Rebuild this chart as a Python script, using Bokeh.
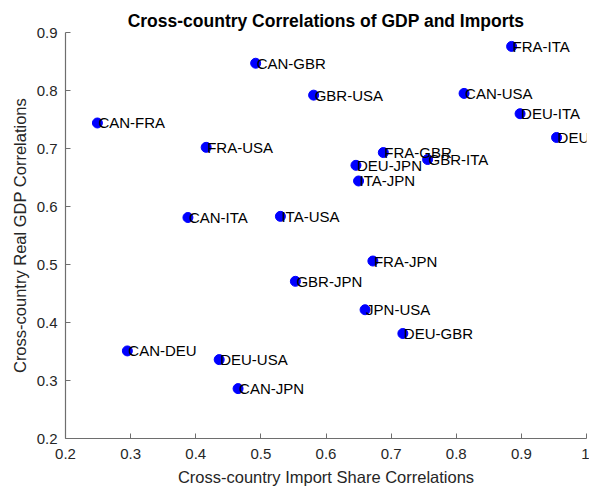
from bokeh.plotting import figure
from bokeh.models import ColumnDataSource, FixedTicker
from bokeh.core.properties import value
from bokeh.embed import file_html
from bokeh.resources import INLINE

pairs = ["CAN-GBR", "CAN-FRA", "FRA-USA", "CAN-ITA", "ITA-USA", "FRA-ITA",
         "GBR-USA", "CAN-USA", "DEU-ITA", "DEU-FRA", "FRA-GBR", "DEU-JPN",
         "GBR-ITA", "ITA-JPN", "CAN-DEU", "DEU-USA", "CAN-JPN", "GBR-JPN",
         "FRA-JPN", "JPN-USA", "DEU-GBR"]
import_corr = [0.492, 0.249, 0.416, 0.388, 0.530, 0.885,
               0.581, 0.812, 0.898, 0.954, 0.688, 0.646,
               0.756, 0.650, 0.295, 0.436, 0.465, 0.553,
               0.672, 0.660, 0.718]
gdp_corr = [0.847, 0.744, 0.702, 0.581, 0.583, 0.876,
            0.792, 0.795, 0.760, 0.719, 0.693, 0.671,
            0.681, 0.644, 0.351, 0.336, 0.286, 0.471,
            0.506, 0.422, 0.381]
x_ticks = [0.2, 0.3, 0.4, 0.5, 0.6, 0.7, 0.8, 0.9, 1.0]
y_ticks = [0.2, 0.3, 0.4, 0.5, 0.6, 0.7, 0.8, 0.9]
title_text = "Cross-country Correlations of GDP and Imports"
x_label = "Cross-country Import Share Correlations"
y_label = "Cross-country Real GDP Correlations"

FONT = "Liberation Sans"
AX = "#6e6e6e"
TXT = "#262626"

src = ColumnDataSource(dict(x=import_corr, y=gdp_corr, name=pairs))

p = figure(width=589, height=492, output_backend="svg", toolbar_location=None,
           x_range=(0.2, 1.0), y_range=(0.2, 0.9),
           min_border_left=65, min_border_right=3, min_border_top=32, min_border_bottom=54,
           title=title_text)
p.outline_line_color = None
p.xgrid.visible = False
p.ygrid.visible = False
p.background_fill_color = "white"
p.border_fill_color = "white"

p.title.align = "center"
p.title.text_font = FONT
p.title.text_font_size = "17.5px"
p.title.text_font_style = "bold"
p.title.text_color = "black"
p.title.standoff = 3
p.title.offset = 0

for ax, ticks in ((p.xaxis[0], x_ticks), (p.yaxis[0], y_ticks)):
    ax.ticker = FixedTicker(ticks=ticks)
    ax.axis_line_color = AX
    ax.axis_line_width = 1.2
    ax.major_tick_line_color = AX
    ax.major_tick_in = 5
    ax.major_tick_out = 0
    ax.minor_tick_line_color = None
    ax.major_label_text_font = FONT
    ax.major_label_text_font_size = "15px"
    ax.major_label_text_color = TXT
    ax.axis_label_text_font = FONT
    ax.axis_label_text_font_size = "16.5px"
    ax.axis_label_text_font_style = "normal"
    ax.axis_label_text_color = TXT

p.xaxis[0].major_label_standoff = 10
p.xaxis[0].axis_label_standoff = 6
p.yaxis[0].major_label_standoff = 8
p.yaxis[0].axis_label_standoff = 5
p.xaxis[0].major_label_overrides = {1.0: "1"}
p.xaxis.axis_label = x_label
p.yaxis.axis_label = y_label

p.scatter("x", "y", source=src, size=10, fill_color="#0000ff", line_color="#0000ff")
p.text("x", "y", text="name", source=src, x_offset=1, text_baseline="middle",
       text_align="left", text_font=value(FONT), text_font_size="15px", text_color="black")

open("out.html", "w").write(file_html(p, INLINE))
